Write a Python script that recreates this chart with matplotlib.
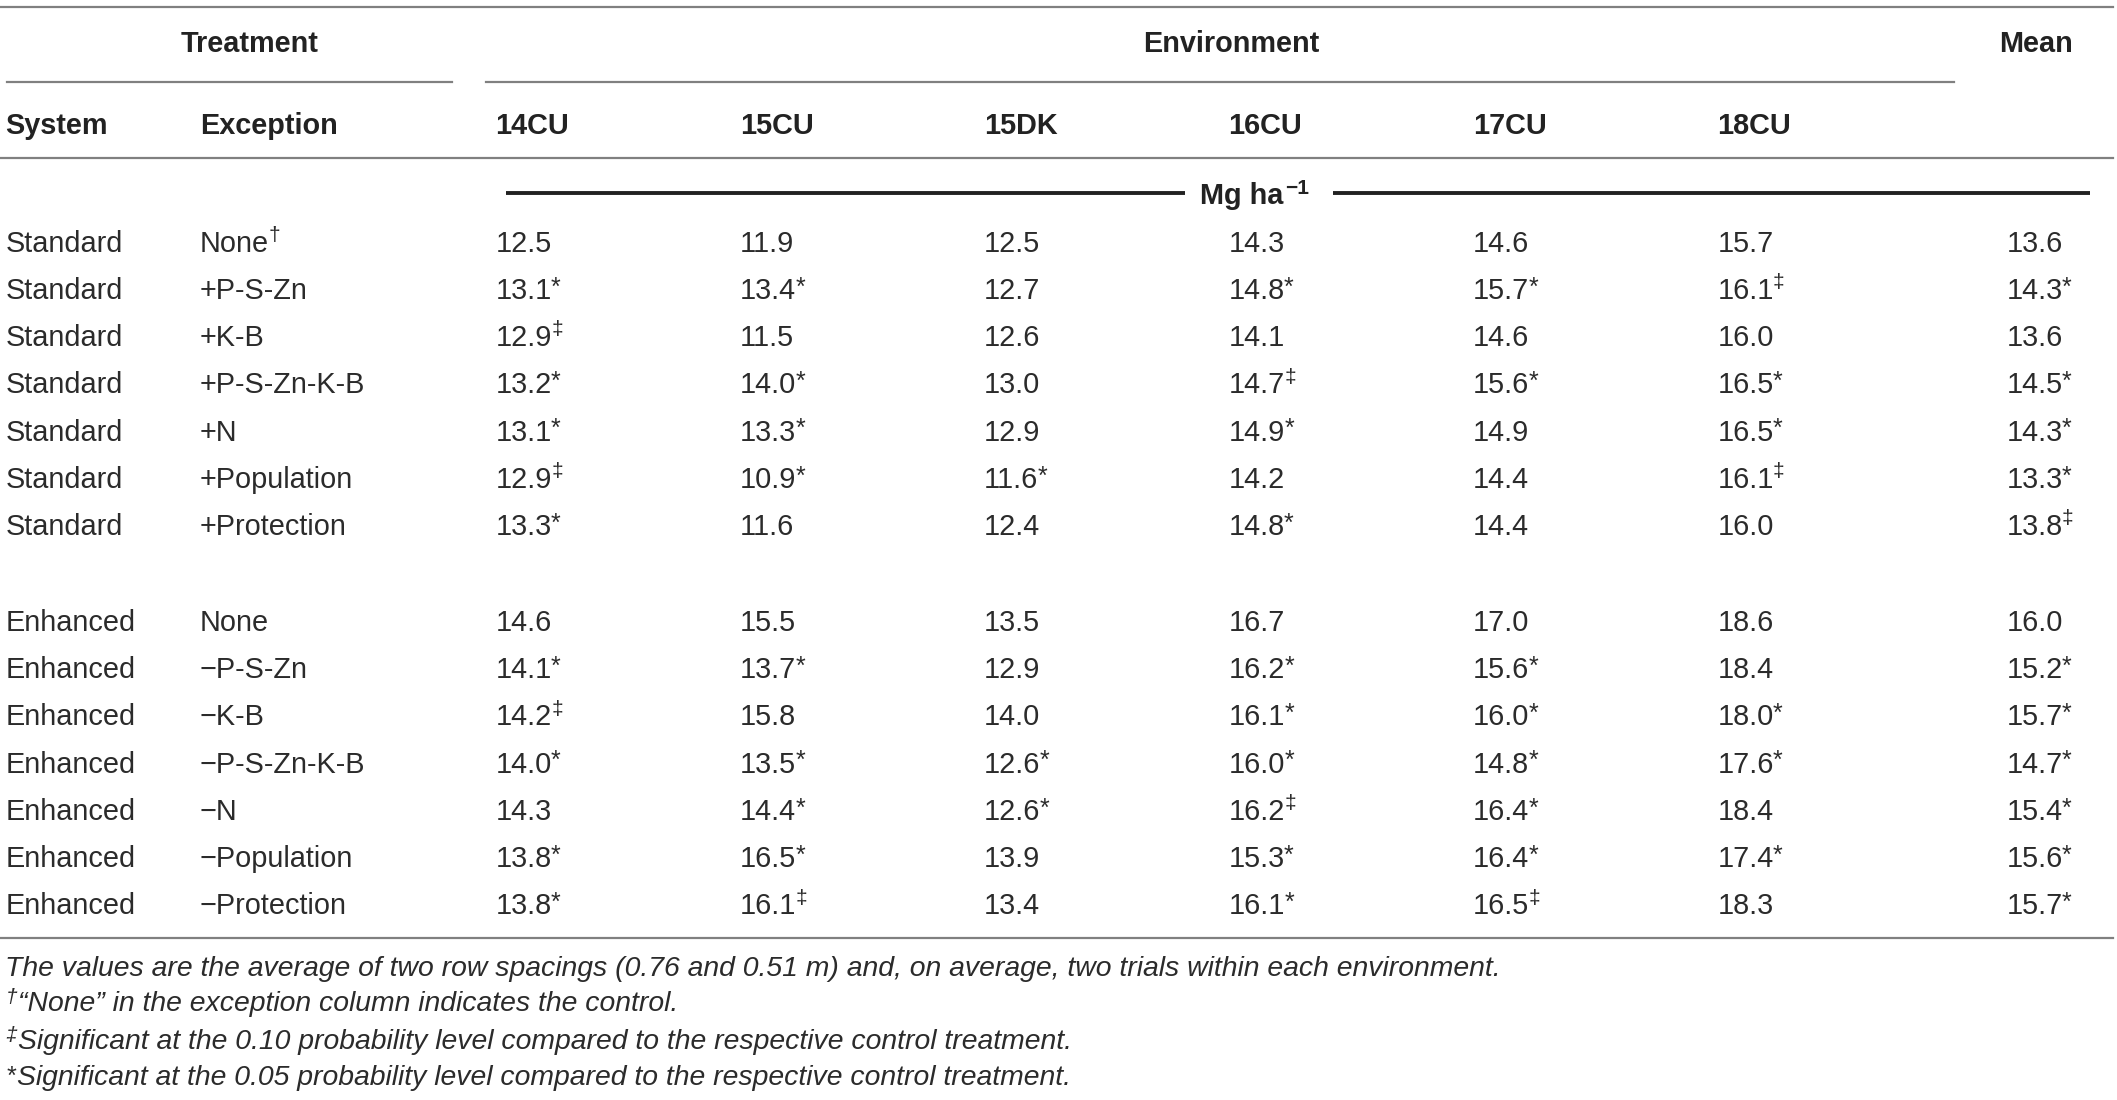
import matplotlib
matplotlib.use("Agg")
import matplotlib.pyplot as plt
from matplotlib import font_manager

# table contents
systems = ["Standard"] * 7 + ["Enhanced"] * 7
exceptions = ["None", "+P-S-Zn", "+K-B", "+P-S-Zn-K-B", "+N", "+Population", "+Protection",
              "None", "\u2212P-S-Zn", "\u2212K-B", "\u2212P-S-Zn-K-B", "\u2212N", "\u2212Population", "\u2212Protection"]
exception_marks = ["\u2020"] + [""] * 13
environments = ["14CU", "15CU", "15DK", "16CU", "17CU", "18CU"]

cu14 = [12.5, 13.1, 12.9, 13.2, 13.1, 12.9, 13.3, 14.6, 14.1, 14.2, 14.0, 14.3, 13.8, 13.8]
cu14_marks = ["", "*", "\u2021", "*", "*", "\u2021", "*", "", "*", "\u2021", "*", "", "*", "*"]
cu15 = [11.9, 13.4, 11.5, 14.0, 13.3, 10.9, 11.6, 15.5, 13.7, 15.8, 13.5, 14.4, 16.5, 16.1]
cu15_marks = ["", "*", "", "*", "*", "*", "", "", "*", "", "*", "*", "*", "\u2021"]
dk15 = [12.5, 12.7, 12.6, 13.0, 12.9, 11.6, 12.4, 13.5, 12.9, 14.0, 12.6, 12.6, 13.9, 13.4]
dk15_marks = ["", "", "", "", "", "*", "", "", "", "", "*", "*", "", ""]
cu16 = [14.3, 14.8, 14.1, 14.7, 14.9, 14.2, 14.8, 16.7, 16.2, 16.1, 16.0, 16.2, 15.3, 16.1]
cu16_marks = ["", "*", "", "\u2021", "*", "", "*", "", "*", "*", "*", "\u2021", "*", "*"]
cu17 = [14.6, 15.7, 14.6, 15.6, 14.9, 14.4, 14.4, 17.0, 15.6, 16.0, 14.8, 16.4, 16.4, 16.5]
cu17_marks = ["", "*", "", "*", "", "", "", "", "*", "*", "*", "*", "*", "\u2021"]
cu18 = [15.7, 16.1, 16.0, 16.5, 16.5, 16.1, 16.0, 18.6, 18.4, 18.0, 17.6, 18.4, 17.4, 18.3]
cu18_marks = ["", "\u2021", "", "*", "*", "\u2021", "", "", "", "*", "*", "", "*", ""]
means = [13.6, 14.3, 13.6, 14.5, 14.3, 13.3, 13.8, 16.0, 15.2, 15.7, 14.7, 15.4, 15.6, 15.7]
means_marks = ["", "*", "", "*", "*", "*", "\u2021", "", "*", "*", "*", "*", "*", "*"]

footnotes = [
    ("", "The values are the average of two row spacings (0.76 and 0.51 m) and, on average, two trials within each environment."),
    ("\u2020", "\u201cNone\u201d in the exception column indicates the control."),
    ("\u2021", "Significant at the 0.10 probability level compared to the respective control treatment."),
    ("*", "Significant at the 0.05 probability level compared to the respective control treatment."),
]

names = {f.name for f in font_manager.fontManager.ttflist}
FONT = "Liberation Sans" if "Liberation Sans" in names else "DejaVu Sans"
plt.rcParams["font.family"] = [FONT, "DejaVu Sans"]

W, H = 1568, 815  # layout units
fig = plt.figure(figsize=(21.17, 11.0), dpi=100)
ax = fig.add_axes([0, 0, 1, 1])
ax.set_xlim(0, W)
ax.set_ylim(H, 0)
ax.axis("off")

TXT = "#2b2b2b"
HEAD = "#222222"
RULE = "#808080"
FS = 20.8
SUP = 15
DY = 2.5  # nudge text to match reference baselines

renderer = fig.canvas.get_renderer()


def right_edge(t):
    bb = t.get_window_extent(renderer=renderer)
    return ax.transData.inverted().transform((bb.x1, bb.y0))[0]


def mark_style(mark):
    # asterisks are near full size, daggers are small superscripts
    if mark == "*":
        return 18, -2.5
    return SUP, -6


def cell(x, y, s, mark="", **kw):
    t = ax.text(x, y + DY, s, fontsize=FS, color=TXT, va="center", ha="left", **kw)
    if mark:
        fs, dy = mark_style(mark)
        xr = right_edge(t)
        ax.text(xr - 0.5, y + DY + dy, mark, fontsize=fs, color=TXT, va="center", ha="left")
    return t


def head(x, y, s, ha="left"):
    return ax.text(x, y + DY, s, fontsize=FS, fontweight="bold", color=HEAD, ha=ha, va="center")


# rules
ax.plot([0, 1565], [5, 5], color=RULE, lw=1.6)
ax.plot([5, 335], [61, 61], color=RULE, lw=1.6)
ax.plot([360, 1447], [61, 61], color=RULE, lw=1.6)
ax.plot([0, 1565], [117, 117], color=RULE, lw=1.6)
ax.plot([0, 1565], [695, 695], color=RULE, lw=1.6)

# headers
head(185, 30, "Treatment", ha="center")
head(912, 30, "Environment", ha="center")
head(1508, 30, "Mean", ha="center")

col_x = [367, 548, 729, 910, 1091, 1272]
head(4, 91, "System")
head(148, 91, "Exception")
for x, name in zip(col_x, environments):
    head(x, 91, name)

# units row
unit = head(889, 143, "Mg ha")
ax.text(right_edge(unit) + 1, 137 + DY, "\u22121", fontsize=SUP, fontweight="bold", color=HEAD, va="center")
ax.plot([375, 878], [143, 143], color=HEAD, lw=2.8, solid_capstyle="butt")
ax.plot([987, 1548], [143, 143], color=HEAD, lw=2.8, solid_capstyle="butt")

# body
columns = [(cu14, cu14_marks), (cu15, cu15_marks), (dk15, dk15_marks),
           (cu16, cu16_marks), (cu17, cu17_marks), (cu18, cu18_marks)]
for i in range(len(systems)):
    y = 178 + 35 * i + (36 if i >= 7 else 0)
    cell(4, y, systems[i])
    cell(148, y, exceptions[i], exception_marks[i])
    for x, (vals, marks) in zip(col_x, columns):
        cell(x, y, f"{vals[i]:.1f}", marks[i])
    cell(1486, y, f"{means[i]:.1f}", means_marks[i])

# footnotes
for (sym, note), y in zip(footnotes, [718, 744, 772, 799]):
    x = 4
    if sym:
        fs, dy = mark_style(sym)
        s = ax.text(x, y + dy + 1, sym, fontsize=fs, color=TXT, va="center", style="italic")
        x = right_edge(s) + 1
    ax.text(x, y, note, fontsize=20.4, color=TXT, va="center", style="italic")

fig.savefig("out.png", dpi=100)
